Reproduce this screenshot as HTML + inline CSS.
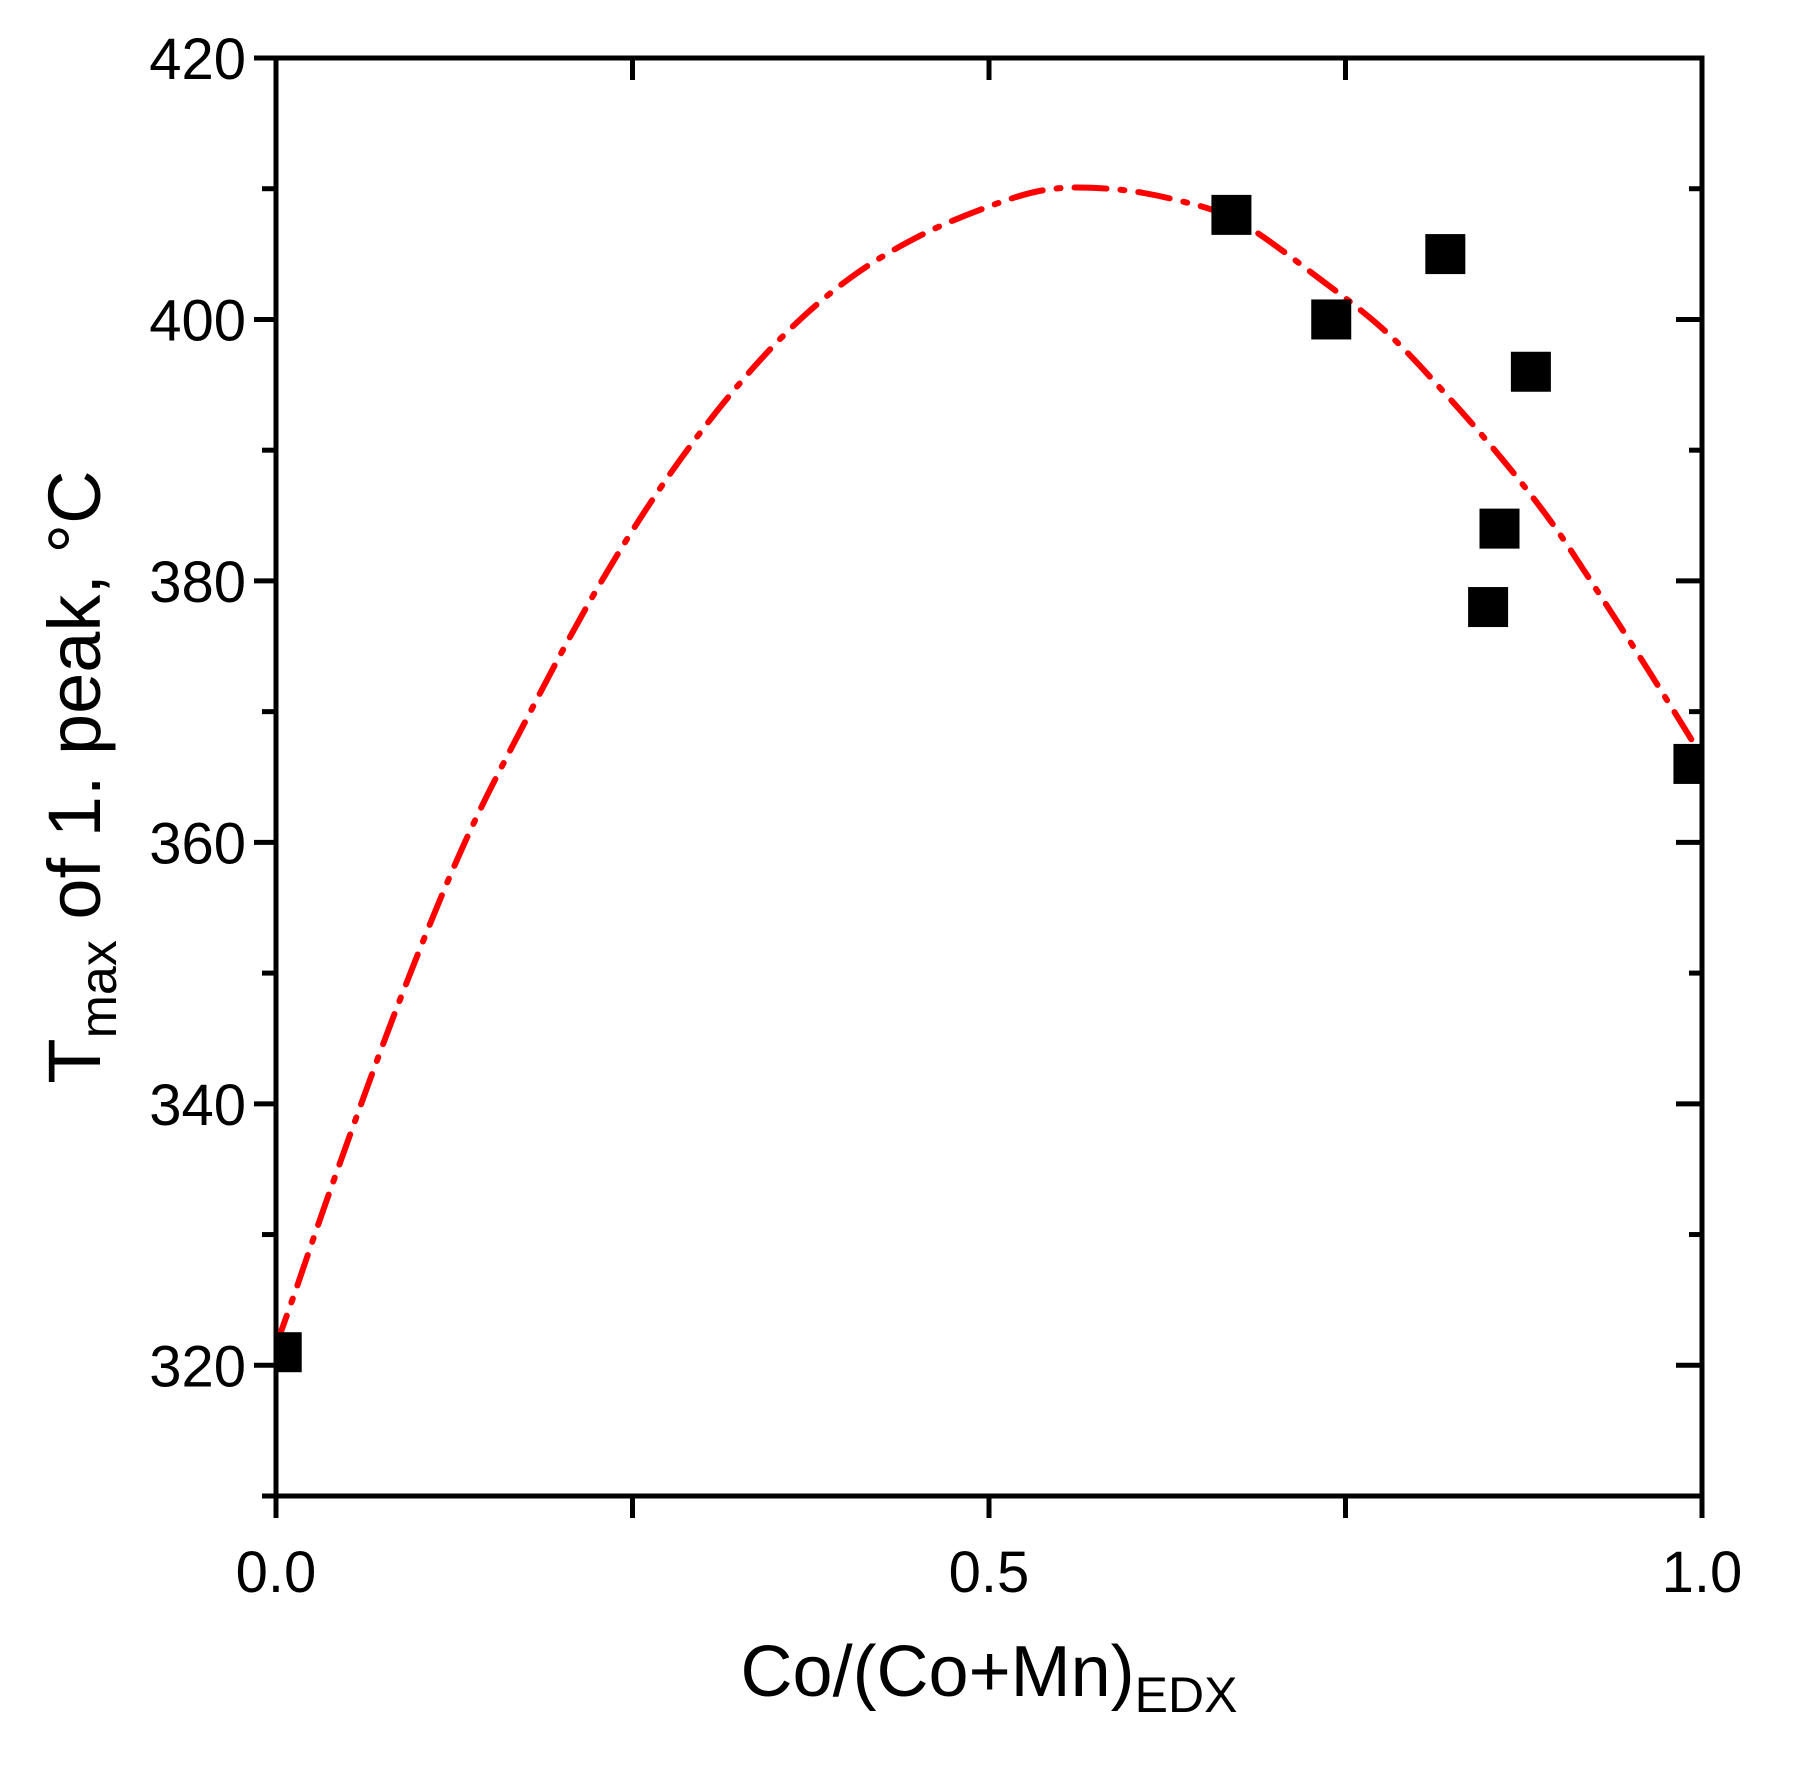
<!DOCTYPE html>
<html><head><meta charset="utf-8"><style>
html,body{margin:0;padding:0;background:#fff}
svg{display:block;font-family:"Liberation Sans",Arial,sans-serif}
</style></head><body>
<svg id="chart" width="1809" height="1771" viewBox="0 0 1809 1771" xmlns="http://www.w3.org/2000/svg">
<defs><clipPath id="plotclip"><rect x="276" y="58" width="1426" height="1438"/></clipPath></defs>
<g id="g-axes"></g>
<g id="g-curve" clip-path="url(#plotclip)"></g>
<g id="g-points" clip-path="url(#plotclip)"></g>
<text x="989" y="1696" font-size="72" text-anchor="middle">Co/(Co+Mn)<tspan font-size="50" dy="16">EDX</tspan></text>
<text transform="translate(100,777) rotate(-90)" font-size="74" text-anchor="middle">T<tspan font-size="52" dy="16">max</tspan><tspan dy="-16"> of 1. peak, °C</tspan></text>
</svg>
<script>
const xTickValues=[0,0.25,0.5,0.75,1];
const xTickLabels=["0.0","","0.5","","1.0"];
const yTickValues=[320,340,360,380,400,420];
const yMinorValues=[310,330,350,370,390,410];
const pointX=[0.004,0.67,0.74,0.82,0.88,0.858,0.85,0.994];
const pointY=[321,408,400,405,396,384,378,366];
const curveX=[0,0.014,0.041,0.086,0.132,0.177,0.222,0.267,0.313,0.358,0.403,0.448,0.494,0.539,0.584,0.629,0.675,0.732,0.779,0.821,0.860,0.895,0.928,0.961,0.993,1.0];
const curveY=[321.5,325.8,334.3,347.7,359.9,369.7,378.8,386.7,393.5,399.0,403.2,406.2,408.4,409.9,410.0,409.2,407.5,403.1,399.0,394.2,389.3,384.4,379.0,373.4,367.8,366.5];

const L=276,R=1702,T=58,B=1496,X0=0,X1=1,Y0=310,Y1=420;
const sx=v=>L+(v-X0)/(X1-X0)*(R-L);
const sy=v=>B-(v-Y0)/(Y1-Y0)*(B-T);
const NS="http://www.w3.org/2000/svg";
function mk(tag,attrs,parent){const e=document.createElementNS(NS,tag);for(const k in attrs)e.setAttribute(k,attrs[k]);parent.appendChild(e);return e;}
const ga=document.getElementById('g-axes');
const frame=mk('rect',{x:L,y:T,width:R-L,height:B-T,fill:'none',stroke:'#000','stroke-width':5},ga);


xTickValues.forEach((v,i)=>{
  const x=sx(v);
  const t=mk('line',{x1:x,x2:x,y1:B,y2:B+22,stroke:'#000','stroke-width':5},ga);
  
  
  const t2=mk('line',{x1:x,x2:x,y1:T,y2:T+22,stroke:'#000','stroke-width':5},ga);
  
  
  if(xTickLabels[i]){
    const lb=mk('text',{x:x,y:B+96,'font-size':58,'text-anchor':'middle'},ga);
    lb.textContent=xTickLabels[i];
    
    
  }
});
yTickValues.forEach(v=>{
  const y=sy(v);
  const t=mk('line',{x1:L-22,x2:L,y1:y,y2:y,stroke:'#000','stroke-width':5},ga);
  
  
  const t2=mk('line',{x1:R-26,x2:R,y1:y,y2:y,stroke:'#000','stroke-width':5},ga);
  
  
  const lb=mk('text',{x:L-30,y:y+21,'font-size':58,'text-anchor':'end'},ga);
  lb.textContent=String(v);
  
  
});
yMinorValues.forEach(v=>{
  const y=sy(v);
  const t=mk('line',{x1:L-14,x2:L,y1:y,y2:y,stroke:'#000','stroke-width':5},ga);
  
  
  const t2=mk('line',{x1:R-13,x2:R,y1:y,y2:y,stroke:'#000','stroke-width':5},ga);
  
  
});
const P=curveX.map((v,i)=>[sx(v),sy(curveY[i])]);
let d='M'+P[0][0]+','+P[0][1];
for(let i=0;i<P.length-1;i++){
  const p0=P[Math.max(0,i-1)],p1=P[i],p2=P[i+1],p3=P[Math.min(P.length-1,i+2)];
  const c1=[p1[0]+(p2[0]-p0[0])/6,p1[1]+(p2[1]-p0[1])/6];
  const c2=[p2[0]-(p3[0]-p1[0])/6,p2[1]-(p3[1]-p1[1])/6];
  d+=' C'+c1[0]+','+c1[1]+' '+c2[0]+','+c2[1]+' '+p2[0]+','+p2[1];
}
const gc=document.getElementById('g-curve');
const pl=mk('path',{d:d,fill:'none',stroke:'#f00','stroke-width':6,'stroke-dasharray':'32 14 4 14','stroke-linecap':'round','stroke-linejoin':'round'},gc);


const gp=document.getElementById('g-points');
const S=40;
pointX.forEach((v,i)=>{
  const r=mk('rect',{x:sx(v)-S/2,y:sy(pointY[i])-S/2,width:S,height:S,fill:'#000'},gp);
  
  
});
</script>
</body></html>
